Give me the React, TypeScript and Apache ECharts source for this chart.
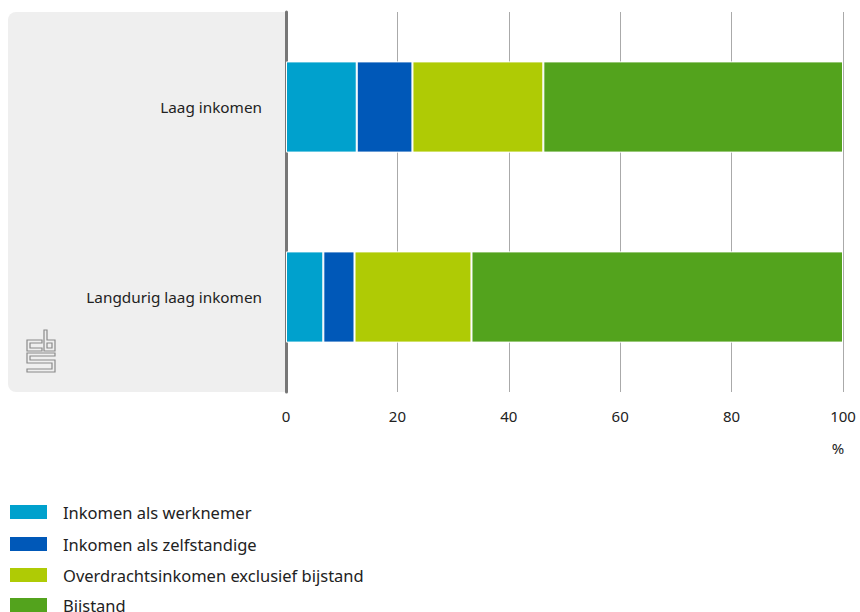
import React, { useEffect, useRef } from "react";
import * as echarts from "echarts";

const categories = ["Laag inkomen", "Langdurig laag inkomen"];
const seriesNames = [
  "Inkomen als werknemer",
  "Inkomen als zelfstandige",
  "Overdrachtsinkomen exclusief bijstand",
  "Bijstand",
];
const werknemer = [12.7, 6.7];
const zelfstandige = [10.0, 5.6];
const overdracht = [23.5, 21.0];
const bijstand = [53.8, 66.7];
const colors = ["#00a1cd", "#0058b8", "#afcb05", "#53a31d"];
const xTicks = [0, 20, 40, 60, 80, 100];

export default function App() {
  const ref = useRef<HTMLDivElement>(null);
  useEffect(() => {
    if (!ref.current) return;
    const chart = echarts.init(ref.current, null, { renderer: "svg" });
    const font = "Noto Sans";
    const data = [werknemer, zelfstandige, overdracht, bijstand];
    const logoStyle = { fill: "none", stroke: "#8a8a8a", lineWidth: 1.2 };
    const legendTops = [503, 535, 566, 596];
    chart.setOption({
      animation: false,
      textStyle: { fontFamily: font },
      grid: { left: 286, right: 17, top: 12, bottom: 220, containLabel: false },
      graphic: [
        {
          type: "rect",
          z: -10,
          shape: { x: 8, y: 12, width: 278, height: 380, r: [8, 0, 0, 8] },
          style: { fill: "#efefef" },
        },
        {
          type: "polygon",
          shape: { points: [[27, 340], [42, 340], [42, 343], [30, 343], [30, 348], [42, 348], [42, 351], [27, 351]] },
          style: logoStyle,
        },
        {
          type: "polygon",
          shape: { points: [[44, 330], [47, 330], [47, 340], [55, 340], [55, 351], [44, 351]] },
          style: logoStyle,
        },
        {
          type: "rect",
          shape: { x: 47, y: 343, width: 5, height: 5 },
          style: logoStyle,
        },
        {
          type: "polygon",
          shape: {
            points: [[27, 353], [55, 353], [55, 356], [30, 356], [30, 360], [55, 360], [55, 372], [27, 372], [27, 369], [52, 369], [52, 363], [27, 363]],
          },
          style: logoStyle,
        },
        {
          type: "text",
          x: 838,
          y: 448,
          style: { text: "%", font: `15px "${font}"`, fill: "#222", textAlign: "center", textVerticalAlign: "middle" },
        },
      ],
      legend: seriesNames.map((name, i) => ({
        orient: "vertical",
        left: 8,
        top: legendTops[i],
        padding: 0,
        itemWidth: 39,
        itemHeight: 16,
        icon: "rect",
        data: [name],
        textStyle: { fontSize: 16.5, color: "#222", fontFamily: font, padding: [0, 0, 0, 10] },
      })),
      xAxis: {
        type: "value",
        min: 0,
        max: 100,
        interval: 20,
        axisLine: { show: false },
        axisTick: { show: false },
        axisLabel: {
          color: "#222",
          fontSize: 15,
          margin: 16,
          formatter: (v: number) => (xTicks.includes(v) ? String(v) : ""),
        },
        splitLine: { show: true, lineStyle: { color: "#aaaaaa", width: 1 } },
      },
      yAxis: {
        type: "category",
        data: categories,
        inverse: true,
        axisLine: { show: true, lineStyle: { color: "#777", width: 3 } },
        axisTick: { show: false },
        axisLabel: { color: "#222", fontSize: 15.3, margin: 24 },
      },
      series: seriesNames.map((name, i) => ({
        name,
        type: "bar",
        stack: "total",
        barWidth: "48%",
        data: data[i],
        itemStyle: { color: colors[i], borderColor: "#fff", borderWidth: 1 },
      })),
      color: colors,
    });
    return () => chart.dispose();
  }, []);
  return <div ref={ref} style={{ width: 860, height: 612, position: "absolute", left: 0, top: 0 }} />;
}
